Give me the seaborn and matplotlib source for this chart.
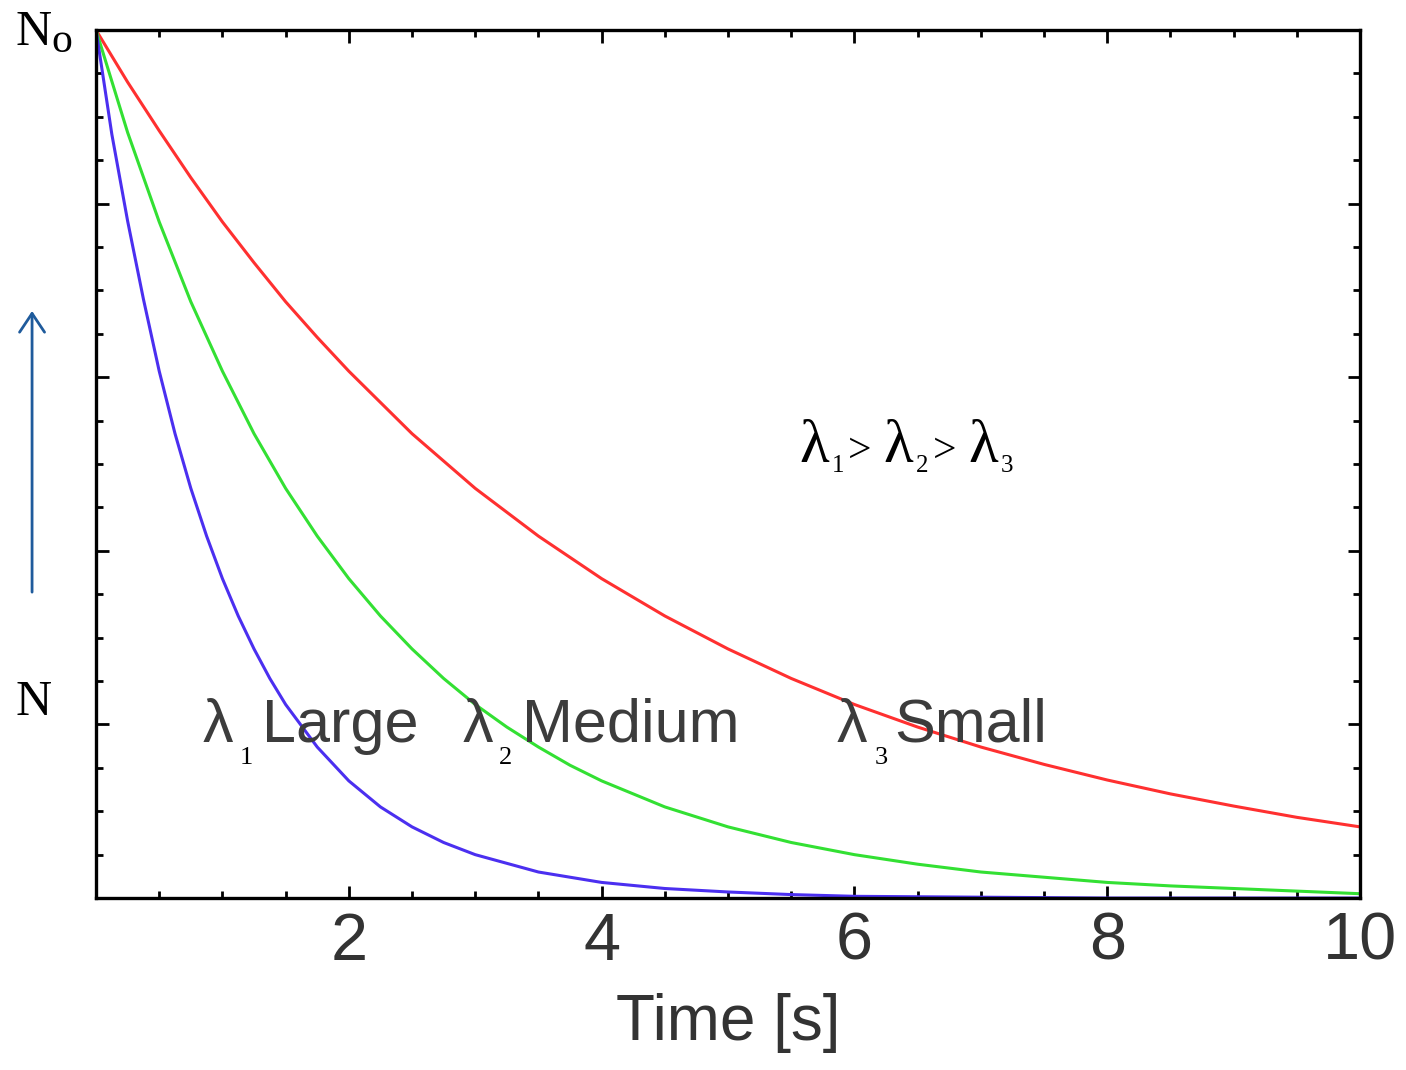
import numpy as np
import pandas as pd
import seaborn as sns
import matplotlib
matplotlib.use('Agg')
import matplotlib.pyplot as plt
from matplotlib.patches import FancyArrowPatch

# values (N / N0)
time_red = [0, 0.25, 0.5, 0.75, 1, 1.25, 1.5, 1.75, 2, 2.5, 3, 3.5, 4, 4.5, 5, 5.5, 6,
            6.5, 7, 7.5, 8, 8.5, 9, 9.5, 10]
n_red = [1.0, 0.94, 0.884, 0.83, 0.779, 0.732, 0.687, 0.646, 0.607, 0.535, 0.472, 0.417,
         0.368, 0.325, 0.287, 0.253, 0.223, 0.197, 0.174, 0.154, 0.136, 0.12, 0.106, 0.093, 0.082]

time_green = [0, 0.25, 0.5, 0.75, 1, 1.25, 1.5, 1.75, 2, 2.25, 2.5, 2.75, 3, 3.25, 3.5,
              3.75, 4, 4.5, 5, 5.5, 6, 6.5, 7, 7.5, 8, 8.5, 9, 9.5, 10]
n_green = [1.0, 0.882, 0.779, 0.687, 0.607, 0.535, 0.472, 0.417, 0.368, 0.325, 0.287,
           0.253, 0.223, 0.197, 0.174, 0.153, 0.135, 0.105, 0.082, 0.064, 0.05, 0.039,
           0.03, 0.024, 0.018, 0.014, 0.011, 0.008, 0.005]

time_blue = [0, 0.125, 0.25, 0.375, 0.5, 0.625, 0.75, 0.875, 1, 1.125, 1.25, 1.375, 1.5,
             1.75, 2, 2.25, 2.5, 2.75, 3, 3.5, 4, 4.5, 5, 5.5, 6, 7, 8, 10]
n_blue = [1.0, 0.88, 0.78, 0.69, 0.607, 0.535, 0.472, 0.417, 0.368, 0.325, 0.287, 0.253,
          0.223, 0.174, 0.135, 0.105, 0.082, 0.064, 0.05, 0.03, 0.018, 0.011, 0.007,
          0.004, 0.002, 0.001, 0.0, 0.0]

x_ticks = [2, 4, 6, 8, 10]
curve_labels = ['Large', 'Medium', 'Small']
curve_subs = ['1', '2', '3']

sns.set_style('ticks')

fig = plt.figure(figsize=(14.06, 10.70), dpi=100)
ax = fig.add_axes([0.0683, 0.1607, 0.899, 0.8112])

sns.lineplot(x=time_red, y=n_red, color='#ff3030', lw=2.2, ax=ax)
sns.lineplot(x=time_green, y=n_green, color='#33e033', lw=2.2, ax=ax)
sns.lineplot(x=time_blue, y=n_blue, color='#4b2ff0', lw=2.2, ax=ax)

ax.set_xlim(0, 10)
ax.set_ylim(0, 1)
ax.set_xticks(x_ticks)
ax.set_xticks(np.arange(0.5, 10, 0.5), minor=True)
ax.set_yticks(np.arange(0, 1.01, 0.2))
ax.set_yticks(np.arange(0, 1.0, 0.05), minor=True)
ax.set_yticklabels([])
ax.set_xticklabels([str(t) for t in x_ticks], fontsize=48, color='#333333',
                   family='Liberation Sans')
ax.tick_params(which='both', direction='in', top=True, right=True, width=2, color='black')
ax.tick_params(which='major', length=9, pad=10)
ax.tick_params(which='minor', length=5)
for s in ax.spines.values():
    s.set_linewidth(2.4)
    s.set_color('black')
    s.set_visible(True)
ax.set_xlabel('Time [s]', fontsize=46, color='#333333', family='Liberation Sans', labelpad=14)
ax.set_ylabel('')

# curve labels: lambda, word, subscript
lam_x = [0.846, 2.901, 5.858]
word_x = [1.312, 3.368, 6.316]
sub_x = [1.19, 3.24, 6.21]
for lx, wx, sx, lab, sub in zip(lam_x, word_x, sub_x, curve_labels, curve_subs):
    ax.text(lx, 0.18, 'λ', fontsize=44, color='#3c3c3c',
            family='Liberation Sans', va='baseline', ha='left')
    ax.text(wx, 0.18, lab, fontsize=44, color='#3c3c3c',
            family='Liberation Sans', va='baseline', ha='left')
    ax.text(sx, 0.161, sub, fontsize=19, color='black', family='Liberation Serif',
            va='center', ha='center')

# lambda_1 > lambda_2 > lambda_3
serif = 'Liberation Serif'
for lx in [5.565, 6.229, 6.901]:
    ax.text(lx, 0.502, 'λ', fontsize=44, color='black', family=serif,
            va='baseline', ha='left')
for gx in [6.04, 6.712]:
    ax.text(gx, 0.502, '>', fontsize=30, color='black', family=serif,
            va='baseline', ha='center')
for sx, sub in zip([5.87, 6.535, 7.207], curve_subs):
    ax.text(sx, 0.4975, sub, fontsize=18, color='black', family=serif,
            va='center', ha='center')

# N0 / N annotations and arrow on the left
fig.text(0.0107, 0.958, 'N', fontsize=36, color='black', family=serif,
         va='baseline', ha='left')
fig.text(0.0363, 0.9514, 'o', fontsize=30, color='black', family=serif,
         va='baseline', ha='left')
fig.text(0.0107, 0.332, 'N', fontsize=36, color='black', family=serif,
         va='baseline', ha='left')
arrow = FancyArrowPatch((0.0228, 0.444), (0.0228, 0.712), transform=fig.transFigure,
                        arrowstyle='->,head_length=0.45,head_width=0.3',
                        mutation_scale=30, color='#1f5b9c', lw=2)
fig.add_artist(arrow)

fig.savefig('out.png', dpi=100)
